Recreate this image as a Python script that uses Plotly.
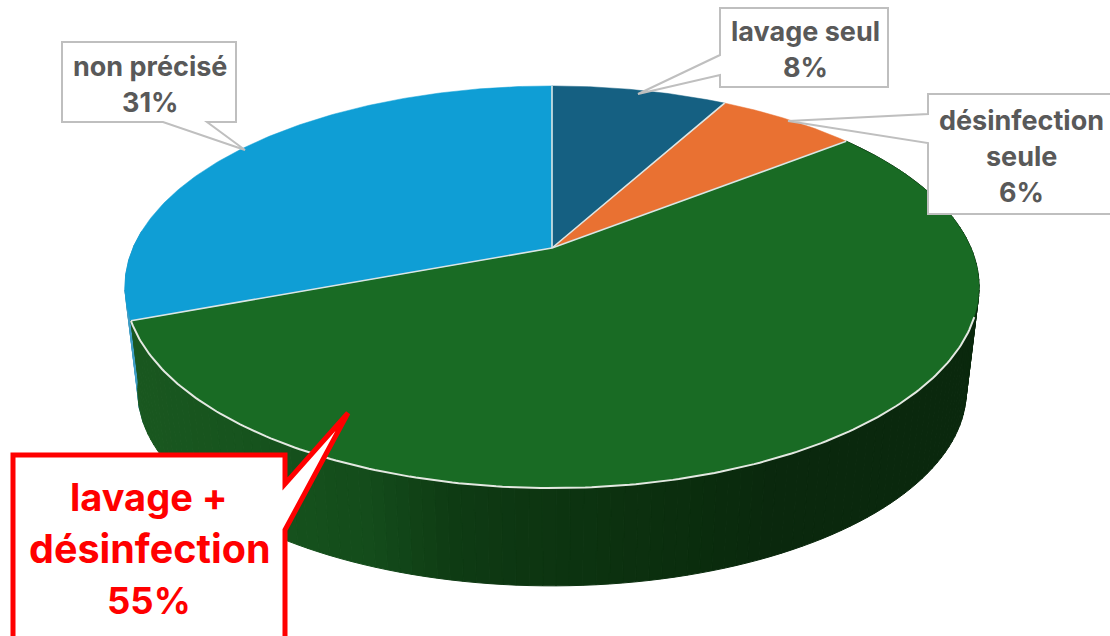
import numpy as np
import plotly.graph_objects as go

# ---- data ----
categories = ["lavage seul", "désinfection seule", "lavage + désinfection", "non précisé"]
shares = [8.0, 6.4, 54.9, 30.7]          # slice sizes
slice_colors = ["#156082", "#E97132", "#196B24", "#0F9ED5"]

label_lines = [["lavage seul", "8%"], ["désinfection", "seule", "6%"],
               ["lavage +", "désinfection", "55%"], ["non précisé", "31%"]]
label_centers = [(805, 31), (1021, 120), (149, 497), (150, 66)]
label_steps = [36, 36, 52, 36]
label_sizes = [[27, 27], [27, 27, 27], [38, 39.5, 36.5], [27, 27]]
label_colors = ["#595959", "#595959", "#FF0000", "#595959"]
callouts = [
    dict(path="M720,8 L888,8 L888,87 L720,87 L720,75 L638,94 L720,55 Z", color="#BFBFBF", width=2),
    dict(path="M928,94 L1125,94 L1125,214 L928,214 L928,143 L788,121 L928,114 Z", color="#BFBFBF", width=2),
    dict(path="M13,455 L285,455 L285,484 L348,413 L285,530 L285,650 L13,650 Z", color="#FF0000", width=5),
    dict(path="M62,42 L236,42 L236,122 L207,122 L245,150 L163,122 L62,122 Z", color="#BFBFBF", width=2),
]

# side shading of the large slice, from left to right (pixel x, tone)
shade_x = [130, 250, 370, 450, 550, 650, 720, 770, 980]
shade_r = [26, 23, 20, 15, 13, 12, 10, 10, 10]
shade_g = [88, 84, 76, 60, 53, 48, 44, 40, 40]
shade_b = [32, 30, 27, 20, 17, 15, 13, 13, 13]

# ---- pie projection (perspective view of a disc) ----
CX, APEX_Y, A, B, K = 552.0, 248.0, 419.0, 193.5, 0.194
LOW_SCALE, LOW_APEX_Y = 0.97, 353.0
RIM_START = np.radians(109.5)   # where the front rim leaves the silhouette
WALL_LEFT = np.radians(262)     # lower-left end of the green wall


def project(theta, scale=1.0, apex=APEX_Y):
    u, v = np.sin(theta), np.cos(theta)
    w = 1 + K * v
    return CX + scale * A * u / w, apex - scale * B * v / w


edges = np.radians(np.concatenate([[0], np.cumsum(shares)]) * 3.6)
fig = go.Figure()


def poly(xs, ys, c, lw=1.0):
    fig.add_trace(go.Scatter(x=list(xs) + [xs[0]], y=list(ys) + [ys[0]], mode="lines",
                             fill="toself", fillcolor=c, line=dict(color=c, width=lw),
                             hoverinfo="skip", showlegend=False))


def side(t0, t1, color_fn, n):
    ts = np.linspace(t0, t1, n + 1)
    for a, b in zip(ts[:-1], ts[1:]):
        xt, yt = project(np.array([a, b]))
        xb, yb = project(np.array([b, a]), LOW_SCALE, LOW_APEX_Y)
        c = color_fn((xt.mean() + xb.mean()) / 2)
        poly(list(xt) + list(xb), list(yt) + list(yb), c)


def green_shade(x):
    return "rgb(%d,%d,%d)" % (np.interp(x, shade_x, shade_r), np.interp(x, shade_x, shade_g),
                              np.interp(x, shade_x, shade_b))


# side wall: thin blue strip, then the green wall
side(edges[3], np.radians(275), lambda x: "#3F9DC4", 6)
side(edges[2], edges[3], green_shade, 130)
ts = np.linspace(edges[3], WALL_LEFT, 12)
xw, yw = project(ts, LOW_SCALE, LOW_APEX_Y)
xt0, yt0 = project(np.array([edges[3]]))
poly([xt0[0]] + list(xw), [yt0[0]] + list(yw), green_shade(130))

# top face
for name, c, a, b in zip(categories, slice_colors, edges[:-1], edges[1:]):
    x, y = project(np.linspace(a, b, 160))
    poly([CX] + list(x), [APEX_Y] + list(y), c, 0.5)

# pale lines: spokes and front rim
for e in edges[:-1]:
    x, y = project(np.array([e]))
    fig.add_trace(go.Scatter(x=[CX, x[0]], y=[APEX_Y, y[0]], mode="lines",
                             line=dict(color="#DDE6E4", width=1.6), hoverinfo="skip", showlegend=False))
x, y = project(np.linspace(RIM_START, edges[3], 200))
fig.add_trace(go.Scatter(x=x, y=y, mode="lines", line=dict(color="#E4E9E2", width=2),
                         hoverinfo="skip", showlegend=False))

shapes = [dict(type="path", path=c["path"], xref="x", yref="y", fillcolor="#FFFFFF",
               line=dict(color=c["color"], width=c["width"]), layer="above") for c in callouts]

annotations = []
for lines, (cx, cy), st, szs, col in zip(label_lines, label_centers, label_steps, label_sizes, label_colors):
    for i, (t, sz) in enumerate(zip(lines, szs)):
        annotations.append(dict(x=cx, y=cy + i * st, xref="x", yref="y", text="<b>%s</b>" % t,
                                showarrow=False, xanchor="center", yanchor="middle",
                                font=dict(family="Inter", size=sz, color=col)))

fig.update_layout(width=1110, height=636, margin=dict(l=0, r=0, t=0, b=0), autosize=False,
                  paper_bgcolor="white", plot_bgcolor="white", showlegend=False,
                  xaxis=dict(range=[0, 1110], visible=False, fixedrange=True),
                  yaxis=dict(range=[636, 0], visible=False, fixedrange=True),
                  shapes=shapes, annotations=annotations)
fig.write_html("out.html", config={"displayModeBar": False},
               post_script="document.body.style.margin='0';document.body.style.overflow='hidden';")
